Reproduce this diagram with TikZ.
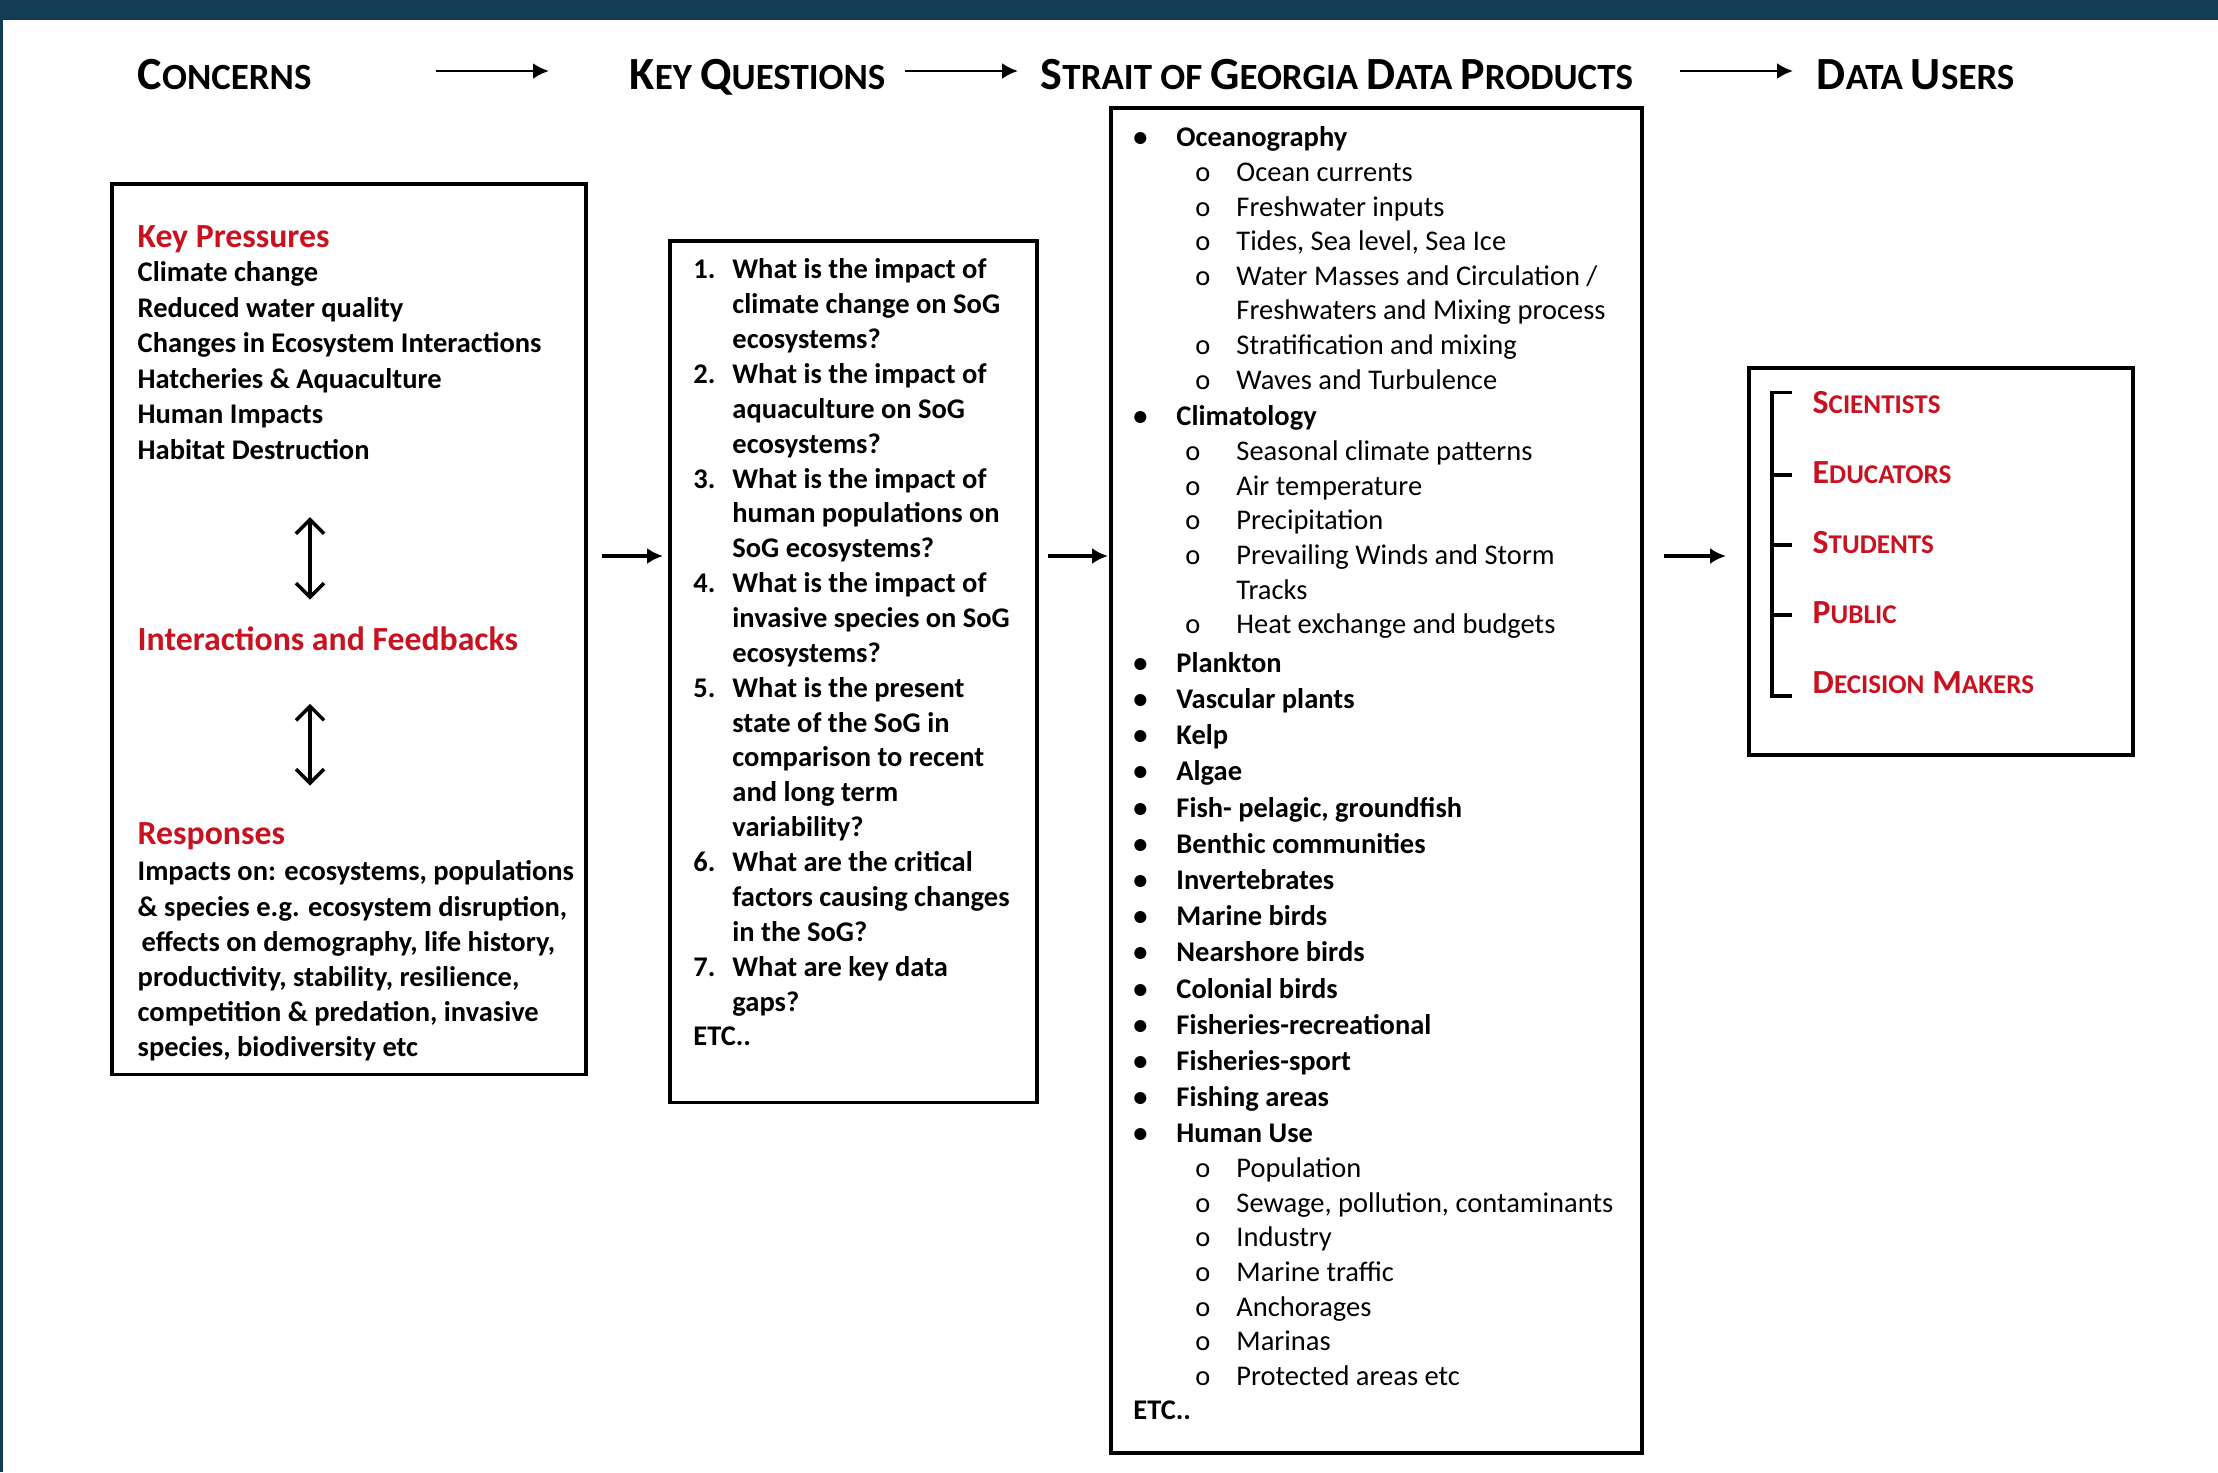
\documentclass[tikz,border=0pt]{standalone}
\usepackage{fontspec}
\setmainfont{Carlito}
\usetikzlibrary{matrix}
\usetikzlibrary{positioning}
\usetikzlibrary{arrows.meta}

\definecolor{framenavy}{RGB}{19,61,84}
\definecolor{keyred}{RGB}{200,18,32}

\newcommand{\listfont}{\fontsize{8.1pt}{9.9pt}\selectfont}
\newcommand{\headfont}{\fontsize{9.6pt}{11.5pt}\selectfont\bfseries}
\newcommand{\hsc}[2]{{\fontsize{13.1pt}{15pt}\selectfont #1}{\fontsize{10.5pt}{12pt}\selectfont #2}}
\newcommand{\usc}[2]{{\fontsize{9.6pt}{11.5pt}\selectfont #1}{\fontsize{7.7pt}{9pt}\selectfont #2}}

\tikzset{
  panel/.style={draw, line width=1.1pt, inner sep=0pt, anchor=north west},
  hdr/.style={anchor=base west, inner sep=0pt, font=\bfseries},
  heading/.style={anchor=base west, inner sep=0pt, text height=7pt, text depth=2pt, font=\headfont, text=keyred},
  list board/.style={
    matrix of nodes, inner sep=0pt, anchor=north west,
    nodes={anchor=base west, inner sep=0pt, text height=6pt, text depth=2pt, font=\listfont\bfseries} % fixed height so rows line up
    },
  sub/.style={xshift=0.62cm, font=\listfont},
  climsub/.style={xshift=0.52cm, font=\listfont},
  subtext/.style={xshift=0.6cm, font=\listfont},
  hdrarrow/.style={-{Latex[length=4.5pt,width=4.5pt]}, line width=0.8pt},
  linkarrow/.style={-{Latex[length=4.5pt,width=4.5pt]}, line width=0.9pt},
  twoway/.style={{Straight Barb[length=4pt,width=8pt]}-{Straight Barb[length=4pt,width=8pt]}, line width=1pt},
  bracket/.style={line width=1.1pt},
}

\begin{document}
\begin{tikzpicture}[x=0.01cm, y=-0.01cm]
  \useasboundingbox (0,0) rectangle (2218,1472);
  \fill[white] (0,0) rectangle (2218,1472);
  % frame
  \fill[framenavy] (0,0) rectangle (2218,20);
  \fill[framenavy] (0,0) rectangle (3,1472);

  % COLUMN TITLES
  \node[hdr] (concerns) at (137,89) {\hsc{C}{ONCERNS}};
  \node[hdr] (keyq) at (629,89) {\hsc{K}{EY} \hsc{Q}{UESTIONS}};
  \node[hdr] (sogtitle) at (1040,89) {\hsc{S}{TRAIT OF} \hsc{G}{EORGIA} \hsc{D}{ATA} \hsc{P}{RODUCTS}};
  \node[hdr] (userstitle) at (1816,89) {\hsc{D}{ATA} \hsc{U}{SERS}};
  \coordinate (h1) at (436,71);
  \coordinate (h2) at (905,71);
  \coordinate (h3) at (1680,71);
  \draw[hdrarrow, shorten >=0.8cm] (h1) -- (keyq.west |- h1);
  \draw[hdrarrow, shorten >=0.22cm] (h2) -- (sogtitle.west |- h2);
  \draw[hdrarrow, shorten >=0.23cm] (h3) -- (userstitle.west |- h3);

  % BOXES
  \node[panel, minimum width=4.74cm, minimum height=8.90cm] (concbox) at (110,182) {};
  \node[panel, minimum width=3.67cm, minimum height=8.61cm] (qbox) at (668,239) {};
  \node[panel, minimum width=5.31cm, minimum height=13.44cm] (prodbox) at (1109,106) {};
  \node[panel, minimum width=3.84cm, minimum height=3.87cm] (userbox) at (1747,366) {};

  % CONCERNS
  \node[heading] (keypress) at (137,247) {Key Pressures};
  \matrix[list board, row sep={0.355cm,between origins}] (press) at (137,260) {
    Climate change \\
    Reduced water quality \\
    Changes in Ecosystem Interactions \\
    Hatcheries \& Aquaculture \\
    Human Impacts \\
    Habitat Destruction \\
  };
  \node[heading] (inter) at (137,650) {Interactions and Feedbacks};
  \node[heading] (resp) at (137,844) {Responses};
  \matrix[list board, row sep={0.352cm,between origins}] (impacts) at (137,859) {
    Impacts on: ecosystems, populations \\
    \& species e.g. ecosystem disruption, \\
    |[xshift=0.04cm]| effects on demography, life history, \\
    productivity, stability, resilience, \\
    competition \& predation, invasive \\
    species, biodiversity etc \\
  };
  \coordinate (axis) at (310,0);
  \draw[twoway, shorten <=0.50cm, shorten >=0.25cm] (axis |- press-6-1.south) -- (axis |- inter.north);
  \draw[twoway, shorten <=0.46cm, shorten >=0.33cm] (axis |- inter.south) -- (axis |- resp.north);

  % KEY QUESTIONS
  \matrix[list board, row sep={0.3485cm,between origins}, column sep={0.39cm,between origins}] (quest) at (692,257) {
    1. & What is the impact of \\
       & climate change on SoG \\
       & ecosystems? \\
    2. & What is the impact of \\
       & aquaculture on SoG \\
       & ecosystems? \\
    3. & What is the impact of \\
       & human populations on \\
       & SoG ecosystems? \\
    4. & What is the impact of \\
       & invasive species on SoG \\
       & ecosystems? \\
    5. & What is the present \\
       & state of the SoG in \\
       & comparison to recent \\
       & and long term \\
       & variability? \\
    6. & What are the critical \\
       & factors causing changes \\
       & in the SoG? \\
    7. & What are key data \\
       & gaps? \\
    ETC.. & \\
  };

  % DATA PRODUCTS
  \matrix[list board, row sep={0.346cm,between origins}, column sep={0.43cm,between origins}] (prod) at (1132,125) {
    • & Oceanography \\
    |[sub]| o & |[subtext]| Ocean currents \\
    |[sub]| o & |[subtext]| Freshwater inputs \\
    |[sub]| o & |[subtext]| Tides, Sea level, Sea Ice \\
    |[sub]| o & |[subtext]| Water Masses and Circulation / \\
              & |[subtext]| Freshwaters and Mixing process \\
    |[sub]| o & |[subtext]| Stratification and mixing \\
    |[sub]| o & |[subtext]| Waves and Turbulence \\[0.022cm]
    • & Climatology \\
    |[climsub]| o & |[subtext]| Seasonal climate patterns \\
    |[climsub]| o & |[subtext]| Air temperature \\
    |[climsub]| o & |[subtext]| Precipitation \\
    |[climsub]| o & |[subtext]| Prevailing Winds and Storm \\
                  & |[subtext]| Tracks \\
    |[climsub]| o & |[subtext]| Heat exchange and budgets \\[0.038cm]
    • & Plankton \\[0.016cm]
    • & Vascular plants \\[0.016cm]
    • & Kelp \\[0.016cm]
    • & Algae \\[0.016cm]
    • & Fish- pelagic, groundfish \\[0.016cm]
    • & Benthic communities \\[0.016cm]
    • & Invertebrates \\[0.016cm]
    • & Marine birds \\[0.016cm]
    • & Nearshore birds \\[0.016cm]
    • & Colonial birds \\[0.016cm]
    • & Fisheries-recreational \\[0.016cm]
    • & Fisheries-sport \\[0.016cm]
    • & Fishing areas \\[0.016cm]
    • & Human Use \\
    |[sub]| o & |[subtext]| Population \\
    |[sub]| o & |[subtext]| Sewage, pollution, contaminants \\
    |[sub]| o & |[subtext]| Industry \\
    |[sub]| o & |[subtext]| Marine traffic \\
    |[sub]| o & |[subtext]| Anchorages \\
    |[sub]| o & |[subtext]| Marinas \\
    |[sub]| o & |[subtext]| Protected areas etc \\
    ETC.. & \\
  };

  % DATA USERS
  \matrix[list board, row sep={0.70cm,between origins}, nodes={text height=7pt, font=\bfseries, text=keyred}] (users) at (1812,388) {
    \usc{S}{CIENTISTS} \\
    \usc{E}{DUCATORS} \\
    \usc{S}{TUDENTS} \\
    \usc{P}{UBLIC} \\
    \usc{D}{ECISION} \usc{M}{AKERS} \\
  };
  \draw[bracket] ([shift={(-20,-12)}]users-1-1.west) -| ([shift={(-40,11)}]users-5-1.west) -- ([shift={(-20,11)}]users-5-1.west);
  \foreach \r in {2,3,4}
    \draw[bracket] ([xshift=-0.4cm]users-\r-1.west) -- ([xshift=-0.2cm]users-\r-1.west);

  % WIRING between the columns
  \coordinate (flow) at (0,556);
  \draw[linkarrow, shorten <=0.14cm, shorten >=0.05cm] (concbox.east |- flow) -- (qbox.west |- flow);
  \draw[linkarrow, shorten <=0.09cm, shorten >=0.01cm] (qbox.east |- flow) -- (prodbox.west |- flow);
  \draw[linkarrow, shorten <=0.20cm, shorten >=0.21cm] (prodbox.east |- flow) -- (userbox.west |- flow);
\end{tikzpicture}
\end{document}
